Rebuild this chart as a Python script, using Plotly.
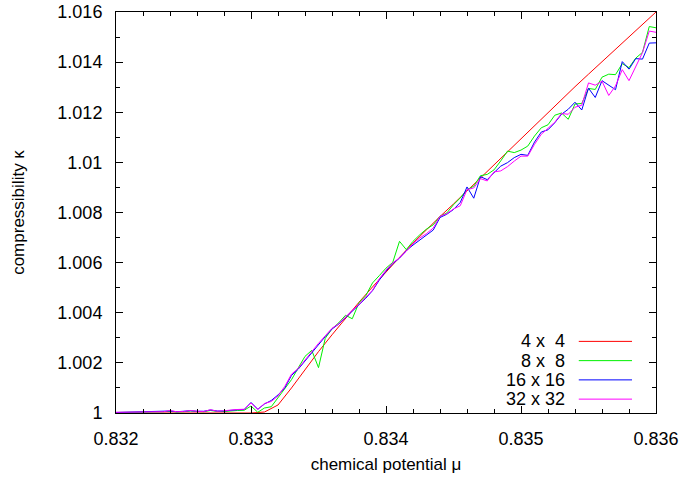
import plotly.graph_objects as go

# chemical potential grid of the lattice runs (step 0.00005)
mu = [round(0.832 + 0.00005 * i, 6) for i in range(81)]

# 4 x 4 curve, read every 0.0001
mu_4 = [round(0.832 + 0.0001 * i, 5) for i in range(41)]
kappa_4 = [1.0, 1.0, 1.0, 1.0, 1.0, 1.0, 1.0, 1.0, 1.0, 1.0,
           1.0, 1.00004, 1.00032, 1.00100, 1.00175, 1.00245, 1.00312, 1.00378, 1.00442, 1.00503,
           1.00563, 1.00621, 1.00678, 1.00733, 1.00784, 1.00834, 1.00886, 1.00938, 1.00990, 1.01042,
           1.01094, 1.01148, 1.01202, 1.01253, 1.01302, 1.01352, 1.01401, 1.01451, 1.01500, 1.01550,
           1.01600]

kappa_8 = [1.00002, 1.00002, 1.00003, 1.00003, 1.00004, 1.00004, 1.00005, 1.00005, 1.00007, 1.00004,
           1.00005, 1.00008, 1.00006, 1.00005, 1.00010, 1.00006, 1.00006, 1.00009, 1.00010, 1.00011,
           1.00028, 1.00003, 1.00020, 1.00025, 1.00060, 1.00095, 1.00133, 1.00180, 1.00226, 1.00250,
           1.00181, 1.00298, 1.00336, 1.00360, 1.00390, 1.00376, 1.00440, 1.00468, 1.00519, 1.00548,
           1.00578, 1.00601, 1.00685, 1.00652, 1.00685, 1.00711, 1.00734, 1.00751, 1.00785, 1.00798,
           1.00831, 1.00858, 1.00891, 1.00905, 1.00947, 1.00952, 1.00970, 1.01006, 1.01045, 1.01039,
           1.01049, 1.01065, 1.01105, 1.01138, 1.01150, 1.01188, 1.01197, 1.01172, 1.01233, 1.01235,
           1.01295, 1.01291, 1.01340, 1.01352, 1.01350, 1.01394, 1.01378, 1.01416, 1.01439, 1.01542,
           1.01537]

kappa_16 = [1.00002, 1.00003, 1.00003, 1.00004, 1.00004, 1.00005, 1.00005, 1.00006, 1.00008, 1.00005,
            1.00006, 1.00009, 1.00007, 1.00007, 1.00012, 1.00008, 1.00008, 1.00012, 1.00013, 1.00014,
            1.00042, 1.00015, 1.00036, 1.00050, 1.00072, 1.00100, 1.00150, 1.00175, 1.00208, 1.00242,
            1.00275, 1.00305, 1.00335, 1.00355, 1.00380, 1.00405, 1.00430, 1.00458, 1.00488, 1.00530,
            1.00566, 1.00596, 1.00618, 1.00648, 1.00670, 1.00690, 1.00708, 1.00730, 1.00780, 1.00793,
            1.00812, 1.00840, 1.00902, 1.00857, 1.00943, 1.00931, 1.00959, 1.00985, 1.00999, 1.01019,
            1.01032, 1.01028, 1.01081, 1.01121, 1.01130, 1.01158, 1.01192, 1.01212, 1.01240, 1.01209,
            1.01296, 1.01259, 1.01326, 1.01309, 1.01290, 1.01402, 1.01372, 1.01414, 1.01412, 1.01476,
            1.01477]

kappa_32 = [1.00003, 1.00003, 1.00004, 1.00004, 1.00005, 1.00004, 1.00006, 1.00005, 1.00010, 1.00005,
            1.00006, 1.00010, 1.00007, 1.00006, 1.00013, 1.00007, 1.00009, 1.00013, 1.00014, 1.00015,
            1.00040, 1.00014, 1.00038, 1.00046, 1.00068, 1.00106, 1.00155, 1.00178, 1.00212, 1.00244,
            1.00278, 1.00308, 1.00338, 1.00356, 1.00384, 1.00410, 1.00433, 1.00460, 1.00490, 1.00535,
            1.00570, 1.00599, 1.00619, 1.00645, 1.00676, 1.00698, 1.00716, 1.00738, 1.00785, 1.00795,
            1.00814, 1.00827, 1.00891, 1.00898, 1.00935, 1.00926, 1.00962, 1.00966, 1.00983, 1.01005,
            1.01025, 1.01025, 1.01072, 1.01112, 1.01138, 1.01160, 1.01195, 1.01192, 1.01220, 1.01228,
            1.01317, 1.01308, 1.01324, 1.01267, 1.01305, 1.01370, 1.01326, 1.01384, 1.01438, 1.01524,
            1.01519]

names = ['4 x\u00a0\u00a04', '8 x\u00a0\u00a08', '16 x 16', '32 x 32']
colors = ['#ff0000', '#00f000', '#0000ff', '#ff00ff']

x_ticks = [0.832, 0.833, 0.834, 0.835, 0.836]
x_labels = ['0.832', '0.833', '0.834', '0.835', '0.836']
y_ticks = [1.0, 1.002, 1.004, 1.006, 1.008, 1.01, 1.012, 1.014, 1.016]
y_labels = ['1', '1.002', '1.004', '1.006', '1.008', '1.01', '1.012', '1.014', '1.016']

font = 'Liberation Sans, Arial, sans-serif'

fig = go.Figure()
series = [(mu_4, kappa_4), (mu, kappa_8), (mu, kappa_16), (mu, kappa_32)]
for (xs, ys), name, c in zip(series, names, colors):
    fig.add_trace(go.Scatter(x=xs, y=ys, mode='lines', name=name,
                             line=dict(color=c, width=1), showlegend=False))

# gnuplot style key: text right aligned, sample line on the right
for k, (name, c) in enumerate(zip(names, colors)):
    yk = 0.1786 - k * 0.048
    fig.add_annotation(x=0.835, y=yk, xref='paper', yref='paper', text=name,
                       showarrow=False, xanchor='right', yanchor='middle',
                       font=dict(size=18, color='black', family=font))
    fig.add_shape(type='line', xref='paper', yref='paper', x0=0.857, x1=0.9556,
                  y0=yk, y1=yk, line=dict(color=c, width=1))

axis_style = dict(showline=True, linecolor='black', linewidth=1, mirror='allticks',
                  ticks='inside', ticklen=7, tickcolor='black', showgrid=False,
                  zeroline=False, automargin=False, ticklabeloverflow='allow',
                  tickfont=dict(size=18, color='black', family=font))

fig.update_xaxes(range=[0.832, 0.836], tickvals=x_ticks, ticktext=x_labels,
                 minor=dict(ticks='inside', ticklen=4, dtick=0.0002, tickcolor='black', showgrid=False),
                 ticklabelstandoff=9,
                 title=dict(text='chemical potential \u03bc', standoff=10,
                            font=dict(size=17, color='black', family=font)),
                 **axis_style)
fig.update_yaxes(range=[1.0, 1.016], tickvals=y_ticks, ticktext=y_labels,
                 minor=dict(ticks='inside', ticklen=4, dtick=0.001, tickcolor='black', showgrid=False),
                 ticklabelstandoff=9,
                 title=dict(text='compressibility \u03ba', standoff=28,
                            font=dict(size=17, color='black', family=font)),
                 **axis_style)

fig.update_layout(width=682, height=479, plot_bgcolor='white', paper_bgcolor='white',
                  margin=dict(l=116, r=26, t=12, b=66), font=dict(family=font))

# drop the default body margin so the figure fills the window
fig.write_html("out.html", config={'displayModeBar': False},
               post_script="document.body.style.margin='0';")
